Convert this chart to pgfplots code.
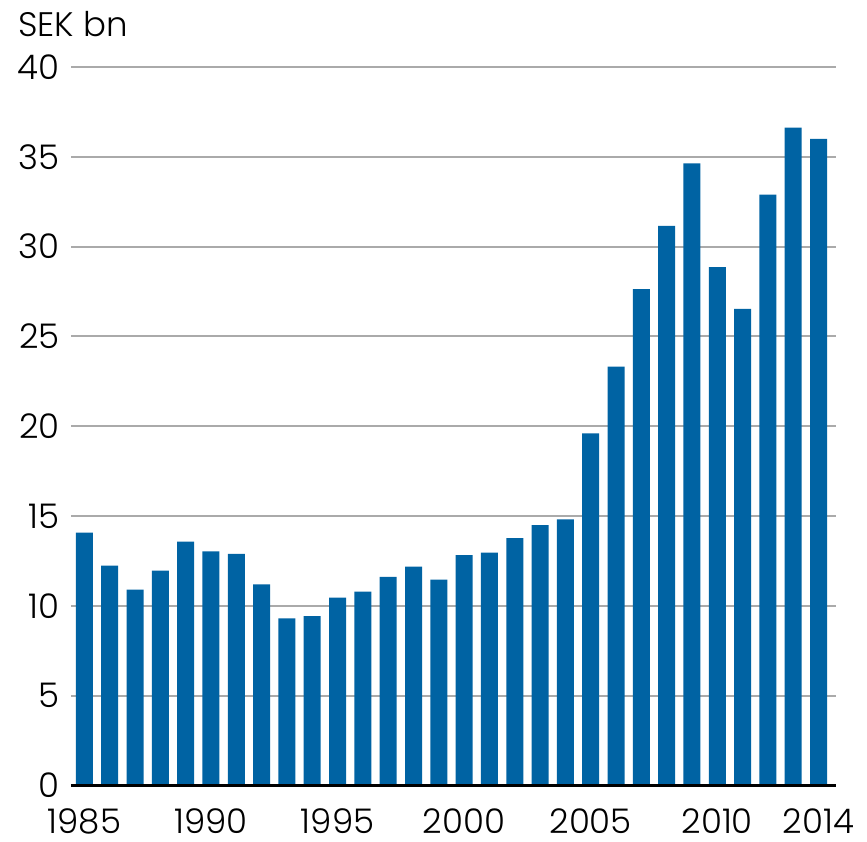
\documentclass[border=0pt]{standalone}
\usepackage{fontspec}
\setmainfont{Poppins Light}
\usepackage{pgfplots}
\pgfplotsset{compat=1.18}
\definecolor{barblue}{RGB}{0,99,163}
\definecolor{gridgray}{RGB}{170,170,170}
\begin{document}
\begin{tikzpicture}
\path[use as bounding box] (-35.5pt,-27.75pt) rectangle (398pt,392.75pt);
\begin{axis}[
  at={(0pt,0pt)}, anchor=south west,
  scale only axis,
  width=382.5pt, height=359.25pt,
  xmin=1984.47, xmax=2014.69,
  ymin=0, ymax=40,
  ytick={0,5,...,40},
  xtick={1985,1990,1995,2000,2005,2010,2014},
  xticklabels={1985,1990,1995,2000,2005,2010,2014},
  axis line style={draw=none},
  major tick length=0pt,
  ymajorgrids,
  grid style={gridgray, line width=1pt},
  /pgf/number format/assume math mode=true,
  /pgf/number format/1000 sep={},
  tick label style={font=\fontsize{17}{17}\selectfont, text=black},
  yticklabel style={anchor=east, inner sep=0pt, xshift=-5.5pt},
  xticklabel style={anchor=north, inner sep=0pt, yshift=-11.5pt},
  clip=false,
]
\addplot[ybar, bar width=8.5pt, fill=barblue, draw=none] coordinates {
(1985,14.08) (1986,12.24) (1987,10.91) (1988,11.96) (1989,13.58)
(1990,13.03) (1991,12.90) (1992,11.20) (1993,9.30) (1994,9.43)
(1995,10.46) (1996,10.80) (1997,11.62) (1998,12.18) (1999,11.46)
(2000,12.83) (2001,12.97) (2002,13.77) (2003,14.49) (2004,14.81)
(2005,19.60) (2006,23.32) (2007,27.63) (2008,31.15) (2009,34.63)
(2010,28.86) (2011,26.54) (2012,32.89) (2013,36.63) (2014,36.00)
};
\draw[black, line width=1.5pt] (axis cs:1984.47,0) -- (axis cs:2014.69,0);
\end{axis}
\node[anchor=base west, inner sep=0pt, font=\fontsize{17}{17}\selectfont] at (-26.5pt,374.25pt) {SEK bn};
\end{tikzpicture}
\end{document}
